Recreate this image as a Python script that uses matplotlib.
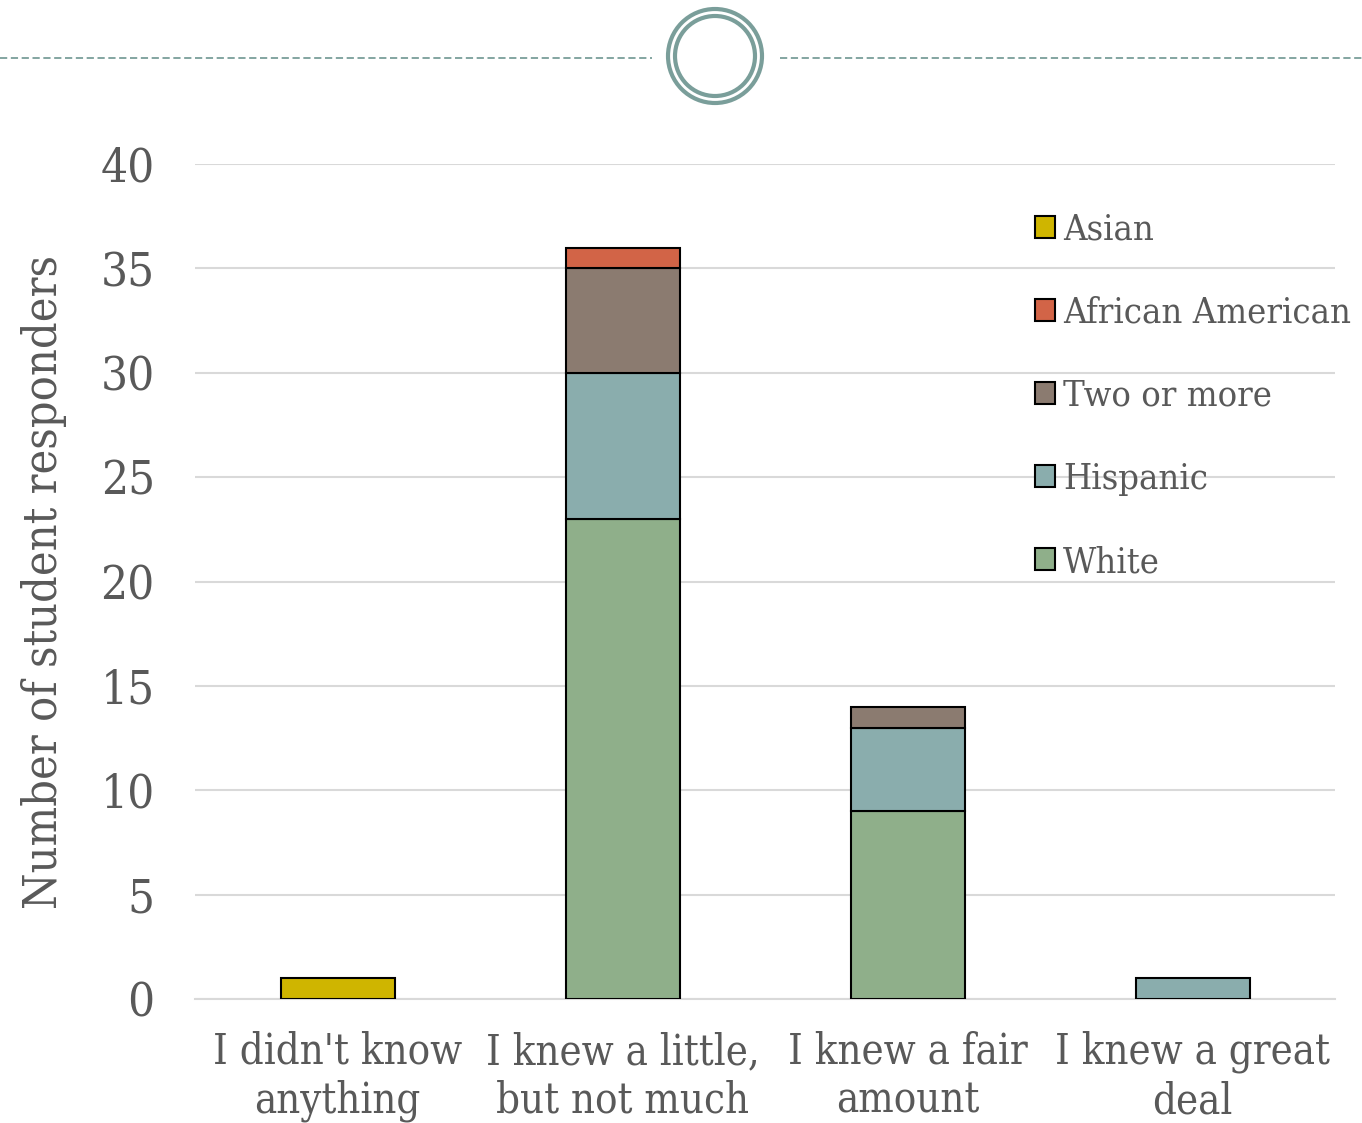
import numpy as np
import matplotlib
matplotlib.use("Agg")
import matplotlib.pyplot as plt
from matplotlib.patches import Circle
from matplotlib.lines import Line2D

categories = ["I didn't know\nanything", "I knew a little,\nbut not much",
              "I knew a fair\namount", "I knew a great\ndeal"]
white = [0, 23, 9, 0]
hispanic = [0, 7, 4, 1]
two_or_more = [0, 5, 1, 0]
african_american = [0, 1, 0, 0]
asian = [1, 0, 0, 0]
yticks = [0, 5, 10, 15, 20, 25, 30, 35, 40]

# bottom-up stacking order, legend lists them top-down
series = [
    ("White", white, "#8FAF8A"),
    ("Hispanic", hispanic, "#8AADAD"),
    ("Two or more", two_or_more, "#8B7B70"),
    ("African American", african_american, "#D26447"),
    ("Asian", asian, "#CFB500"),
]

TXT = "#595959"
GRID = "#D9D9D9"
DECO = "#7A9E9A"
plt.rcParams["font.family"] = ["DejaVu Serif"]
plt.rcParams["font.stretch"] = "condensed"

W, H = 1362, 1123
fig = plt.figure(figsize=(W / 100, H / 100), dpi=100)
ax = fig.add_axes([195 / W, 1 - 999 / H, 1140 / W, 835 / H])

x = np.arange(len(categories))
bottom = np.zeros(len(categories))
for name, vals, col in series:
    v = np.array(vals, dtype=float)
    mask = v > 0
    ax.bar(x[mask], v[mask], bottom=bottom[mask], width=0.4, color=col,
           edgecolor="black", linewidth=1.5, zorder=3)
    bottom += v

ax.set_xlim(-0.5, 3.5)
ax.set_ylim(0, 40)
ax.set_yticks(yticks)
ax.set_xticks(x)
ax.set_xticklabels(categories, fontsize=30, color=TXT, linespacing=1.2)
ax.tick_params(axis="y", labelsize=34, colors=TXT, length=0, pad=29)
ax.tick_params(axis="x", length=0, pad=23)
ax.grid(axis="y", color=GRID, linewidth=1.5, zorder=0)
for s in ["top", "right", "left"]:
    ax.spines[s].set_visible(False)
ax.spines["bottom"].set_color(GRID)
ax.spines["bottom"].set_linewidth(1.5)
ax.set_ylabel("Number of student responders", fontsize=33.5, color=TXT, labelpad=24)

handles = [plt.Rectangle((0, 0), 1, 1, facecolor=c, edgecolor="black", linewidth=1.5)
           for _, _, c in series[::-1]]
labels = [n for n, _, _ in series[::-1]]
leg = ax.legend(handles, labels, loc="upper left", bbox_to_anchor=(0.7246, 0.959),
                frameon=False, fontsize=26, labelcolor=TXT, handlelength=0.55,
                handleheight=0.55, handletextpad=0.22, labelspacing=1.36,
                borderaxespad=0)

# header ornament: dashed rule with a double ring
deco = fig.add_axes([0, 0, 1, 1], zorder=-1)
deco.set_xlim(0, W)
deco.set_ylim(H, 0)
deco.axis("off")
deco.add_line(Line2D([0, 652], [58, 58], color=DECO, linewidth=1.3, linestyle=(0, (4, 2))))
deco.add_line(Line2D([780, W], [58, 58], color=DECO, linewidth=1.3, linestyle=(0, (4, 2))))
deco.add_patch(Circle((715, 56), 47, fill=False, edgecolor=DECO, linewidth=3))
deco.add_patch(Circle((715, 56), 40, fill=False, edgecolor=DECO, linewidth=3))

fig.savefig("out.png", dpi=100)
